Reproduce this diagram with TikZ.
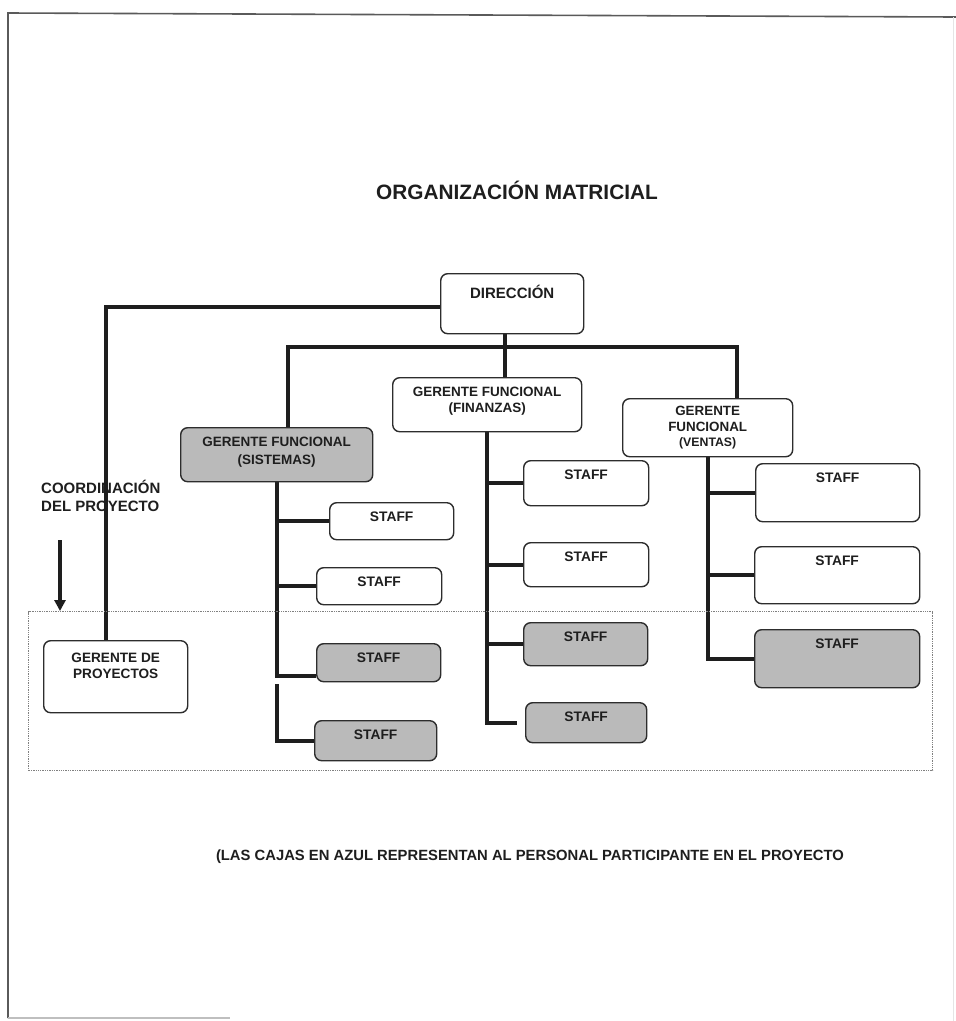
\documentclass[tikz,border=0pt]{standalone}
\usepackage{fontspec}
\setmainfont{Liberation Sans}
\usetikzlibrary{arrows.meta,backgrounds}
\definecolor{ink}{RGB}{30,30,30}
\definecolor{edge}{RGB}{45,45,45}
\definecolor{partgray}{RGB}{186,186,186}
\definecolor{framegray}{RGB}{90,90,90}
\newcommand{\orgbox}[6]{% style, name, x1, y1, x2, y2
  \pgfmathsetmacro{\obw}{#5-#3}\pgfmathsetmacro{\obh}{#6-#4}
  \node[#1, anchor=north west, minimum width=\obw pt, minimum height=\obh pt] (#2) at (#3,#4) {};}
\tikzset{
  box/.style={draw=edge, line width=1.4pt, rounded corners=7pt, fill=white, inner sep=0pt},
  pbox/.style={box, fill=partgray},
  zonebox/.style={draw=gray, densely dotted, line width=1.3pt, inner sep=0pt},
  conn/.style={draw=ink, line width=3.8pt},
  lbl/.style={font=\bfseries\fontsize{13.5}{16}\selectfont, align=center, inner sep=0pt, text=ink},
  stafflbl/.style={font=\bfseries\fontsize{13.8}{15}\selectfont, inner sep=0pt, text=ink},
}
\begin{document}
\begin{tikzpicture}[x=1pt, y=-1pt]
\useasboundingbox (0,0) rectangle (956,1021);
\begin{scope}[on background layer]
  \fill[white] (0,0) rectangle (956,1021);
\end{scope}

% page frame
\draw[framegray, line width=1.6pt] (8,1018) -- (8,13) -- (956,17);
\draw[gray!50, line width=1.2pt] (8,1018) -- (230,1018);
\draw[gray!20, line width=0.8pt] (953,17) -- (953,1021);

% title
\node[font=\bfseries\fontsize{20.8}{24}\selectfont, inner sep=0pt, text=ink] (title) at (517,190) {ORGANIZACIÓN MATRICIAL};

% project zone
\orgbox{zonebox}{zone}{28}{611}{932}{770}

% management boxes
\orgbox{box}{dir}{440}{273}{583}{333}
\orgbox{box}{fin}{392}{377}{581}{431}
\orgbox{pbox}{sis}{180}{427}{372}{481}
\orgbox{box}{ven}{622}{398}{792}{456}
\orgbox{box}{pm}{43}{640}{187}{712}

% staff under Sistemas
\orgbox{box}{s1}{329}{502}{453}{539}
\orgbox{box}{s2}{316}{567}{441}{604}
\orgbox{pbox}{s3}{316}{643}{440}{681}
\orgbox{pbox}{s4}{314}{720}{436}{760}
% staff under Finanzas
\orgbox{box}{f1}{523}{460}{648}{505}
\orgbox{box}{f2}{523}{542}{648}{586}
\orgbox{pbox}{f3}{523}{622}{647}{665}
\orgbox{pbox}{f4}{525}{702}{646}{742}
% staff under Ventas
\orgbox{box}{v1}{755}{463}{919}{521}
\orgbox{box}{v2}{754}{546}{919}{603}
\orgbox{pbox}{v3}{754}{629}{919}{687}

% labels
\node[lbl, font=\bfseries\fontsize{15}{16}\selectfont] (tdir) at ([yshift=-19pt]dir.north) {DIRECCIÓN};
\node[lbl, font=\bfseries\fontsize{13.5}{16}\selectfont] (tfin) at ([yshift=-24pt]fin.north) {GERENTE FUNCIONAL\\(FINANZAS)};
\node[lbl, font=\bfseries\fontsize{13.5}{18}\selectfont] (tsis) at ([yshift=3pt]sis.center) {GERENTE FUNCIONAL\\(SISTEMAS)};
\node[lbl, font=\bfseries\fontsize{13.4}{15.5}\selectfont] (tven) at (ven.center) {GERENTE\\FUNCIONAL\\{\fontsize{12.3}{15.5}\selectfont(VENTAS)}};
\node[lbl, font=\bfseries\fontsize{13.6}{16}\selectfont] (tpm) at ([yshift=11pt]pm.center) {GERENTE DE\\PROYECTOS};
\foreach \b in {s1,s2,s3,s4,f1,f2,f3,f4,v1,v2,v3}
  \node[stafflbl] (t\b) at ([yshift=-15pt]\b.north) {STAFF};

% footnote
\node[font=\bfseries\fontsize{14.8}{16}\selectfont, inner sep=0pt, text=ink] (note) at (530,857)
  {(LAS CAJAS EN AZUL REPRESENTAN AL PERSONAL PARTICIPANTE EN EL PROYECTO};

% coordination arrow
\coordinate (arrtop) at (60,540);
\draw[ink, line width=3.4pt, -{Triangle[length=11pt,width=11pt]}] (arrtop) -- (arrtop |- zone.north);

\begin{scope}[on background layer]
  \node[font=\bfseries\fontsize{15}{18}\selectfont, align=left, anchor=west, inner sep=0pt, text=ink] (coord) at (41,496)
    {COORDINACIÓN\\DEL PROYECTO};
  % direction to project manager
  \draw[conn] ([yshift=-3pt]dir.west) -| ([xshift=-10pt]pm.north);
  % functional bus
  \coordinate (busR) at (737,347);
  \draw[conn] ([xshift=11pt]sis.north) |- (busR) -- (busR |- ven.north);
  \coordinate (dirdown) at ([xshift=-7.5pt]dir.south);
  \draw[conn] (dirdown) -- (dirdown |- fin.north);
  % Sistemas column
  \draw[conn] (sis.south) |- ([yshift=-13pt]s3.west);
  \draw[conn] (sis.south |- s1.west) -- (s1.west);
  \draw[conn] (sis.south |- s2.west) -- (s2.west);
  \coordinate (sisbrk) at (sis.south |- s3.south);
  \draw[conn] ([yshift=-2pt]sisbrk) |- (s4.west);
  % Finanzas column
  \draw[conn] (fin.south) |- ([xshift=-8pt]f4.west);
  \draw[conn] (fin.south |- f1.west) -- (f1.west);
  \draw[conn] (fin.south |- f2.west) -- (f2.west);
  \draw[conn] (fin.south |- f3.west) -- (f3.west);
  % Ventas column
  \draw[conn] (ven.south) |- (v3.west);
  \draw[conn] (ven.south |- v1.west) -- (v1.west);
  \draw[conn] (ven.south |- v2.west) -- (v2.west);
\end{scope}
\end{tikzpicture}
\end{document}
